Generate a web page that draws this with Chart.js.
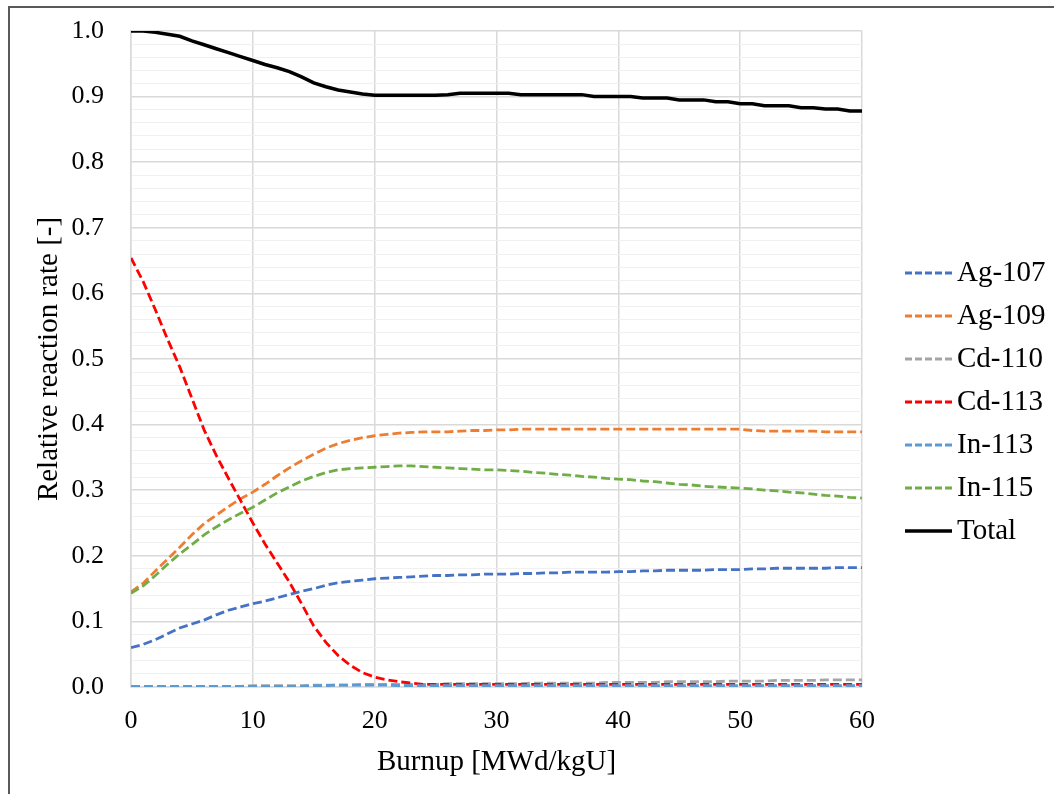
<!DOCTYPE html>
<html>
<head>
<meta charset="utf-8">
<script src="https://cdn.jsdelivr.net/npm/chart.js@4/dist/chart.umd.min.js"></script>
<style>
  html, body { margin: 0; padding: 0; background: #fff; overflow: hidden; }
  #frame { position: absolute; left: 8px; top: 6px; width: 2000px; height: 2000px;
           border-left: 2px solid #595959; border-top: 2px solid #595959; }
  #chart { position: absolute; left: 0; top: 0; }
</style>
</head>
<body>
<div id="frame"></div>
<canvas id="chart" width="1054" height="794"></canvas>
<script>
// Burnup steps [MWd/kgU]
const burnup = [0,1,2,3,4,5,6,7,8,9,10,11,12,13,14,15,16,17,18,19,20,
  21,22,23,24,25,26,27,28,29,30,31,32,33,34,35,36,37,38,39,40,
  41,42,43,44,45,46,47,48,49,50,51,52,53,54,55,56,57,58,59,60];

// Relative reaction rates
const ag107 = [0.060,0.065,0.072,0.081,0.090,0.096,0.102,0.110,0.117,0.122,0.127,
  0.131,0.136,0.141,0.146,0.150,0.155,0.159,0.161,0.163,0.165,
  0.166,0.167,0.168,0.169,0.170,0.170,0.171,0.171,0.172,0.172,
  0.172,0.173,0.173,0.174,0.174,0.175,0.175,0.175,0.175,0.176,
  0.176,0.177,0.177,0.178,0.178,0.178,0.178,0.179,0.179,0.179,
  0.180,0.180,0.181,0.181,0.181,0.181,0.181,0.182,0.182,0.182];
const ag109 = [0.145,0.158,0.177,0.195,0.213,0.232,0.249,0.262,0.275,0.287,0.297,
  0.309,0.322,0.334,0.345,0.355,0.364,0.371,0.376,0.380,0.383,
  0.385,0.387,0.388,0.389,0.389,0.389,0.390,0.391,0.391,0.392,
  0.392,0.393,0.393,0.393,0.393,0.393,0.393,0.393,0.393,0.393,
  0.393,0.393,0.393,0.393,0.393,0.393,0.393,0.393,0.393,0.393,
  0.391,0.390,0.390,0.390,0.390,0.390,0.389,0.389,0.389,0.389];
const cd110 = [0.001,0.001,0.001,0.001,0.001,0.001,0.001,0.001,0.001,0.001,0.002,
  0.002,0.002,0.002,0.002,0.003,0.003,0.003,0.003,0.004,0.004,
  0.004,0.004,0.004,0.004,0.004,0.005,0.005,0.005,0.005,0.005,
  0.005,0.005,0.006,0.006,0.006,0.006,0.006,0.006,0.007,0.007,
  0.007,0.007,0.007,0.008,0.008,0.008,0.008,0.008,0.009,0.009,
  0.009,0.009,0.010,0.010,0.010,0.010,0.011,0.011,0.011,0.011];
const cd113 = [0.654,0.618,0.575,0.530,0.488,0.440,0.392,0.353,0.318,0.284,0.250,
  0.218,0.189,0.160,0.127,0.093,0.068,0.048,0.033,0.022,0.015,
  0.011,0.008,0.006,0.004,0.004,0.004,0.004,0.004,0.004,0.004,
  0.004,0.004,0.004,0.004,0.004,0.004,0.004,0.004,0.004,0.004,
  0.004,0.004,0.004,0.004,0.004,0.004,0.004,0.004,0.004,0.004,
  0.004,0.004,0.004,0.004,0.004,0.004,0.004,0.004,0.004,0.004];
const in113 = [0.001,0.001,0.001,0.001,0.001,0.001,0.001,0.001,0.001,0.001,0.001,
  0.001,0.001,0.001,0.001,0.002,0.002,0.003,0.003,0.003,0.003,
  0.003,0.002,0.002,0.002,0.002,0.002,0.002,0.002,0.002,0.002,
  0.002,0.002,0.002,0.002,0.002,0.002,0.002,0.002,0.002,0.002,
  0.002,0.002,0.002,0.002,0.002,0.002,0.002,0.002,0.002,0.002,
  0.002,0.002,0.002,0.002,0.002,0.002,0.002,0.002,0.002,0.002];
const in115 = [0.143,0.154,0.170,0.187,0.203,0.217,0.232,0.244,0.255,0.265,0.274,
  0.285,0.296,0.305,0.314,0.321,0.327,0.331,0.333,0.334,0.335,
  0.336,0.337,0.337,0.336,0.335,0.334,0.333,0.332,0.331,0.331,
  0.330,0.329,0.327,0.326,0.324,0.323,0.321,0.320,0.318,0.317,
  0.316,0.314,0.313,0.311,0.309,0.308,0.306,0.305,0.304,0.303,
  0.302,0.300,0.299,0.297,0.296,0.294,0.292,0.291,0.289,0.288];
const total = [1.000,1.000,0.998,0.995,0.992,0.985,0.979,0.973,0.967,0.961,0.955,
  0.949,0.944,0.938,0.930,0.921,0.915,0.910,0.907,0.904,0.902,
  0.902,0.902,0.902,0.902,0.902,0.903,0.905,0.905,0.905,0.905,
  0.905,0.903,0.903,0.903,0.903,0.903,0.903,0.900,0.900,0.900,
  0.900,0.898,0.898,0.898,0.895,0.895,0.895,0.892,0.892,0.889,
  0.889,0.886,0.886,0.886,0.883,0.883,0.881,0.881,0.878,0.878];

const seriesNames = ['Ag-107', 'Ag-109', 'Cd-110', 'Cd-113', 'In-113', 'In-115', 'Total'];
const seriesData = [ag107, ag109, cd110, cd113, in113, in115, total];
const seriesColors = ['#4472C4', '#ED7D31', '#A5A5A5', '#FF0000', '#5B9BD5', '#70AD47', '#000000'];

const FONT = '"Liberation Serif", "Times New Roman", serif';

const datasets = seriesNames.map(function (name, i) {
  const isTotal = name === 'Total';
  return {
    label: name,
    data: burnup.map(function (x, j) { return { x: x, y: seriesData[i][j] }; }),
    borderColor: seriesColors[i],
    borderWidth: isTotal ? 3.5 : 2.8,
    borderDash: isTotal ? [] : [9, 4],
    pointRadius: 0,
    tension: 0,
    fill: false,
    order: seriesNames.length - i
  };
});

// legend drawn at the right like the spreadsheet one
const sideLegend = {
  id: 'sideLegend',
  afterDraw(chart) {
    const ctx = chart.ctx;
    ctx.save();
    ctx.font = '29px ' + FONT;
    ctx.textBaseline = 'middle';
    ctx.textAlign = 'left';
    chart.data.datasets.forEach(function (ds, i) {
      const y = 273 + i * 43;
      ctx.strokeStyle = ds.borderColor;
      ctx.lineWidth = ds.borderWidth;
      ctx.setLineDash(ds.borderDash.length ? [7, 3] : []);
      ctx.beginPath();
      ctx.moveTo(905, y);
      ctx.lineTo(952, y);
      ctx.stroke();
      ctx.setLineDash([]);
      ctx.fillStyle = '#000';
      ctx.fillText(ds.label, 957, y);
    });
    ctx.restore();
  }
};

new Chart(document.getElementById('chart'), {
  type: 'line',
  data: { datasets: datasets },
  plugins: [sideLegend],
  options: {
    responsive: false,
    animation: false,
    devicePixelRatio: 1,
    layout: { padding: { left: 10, top: 31, right: 192, bottom: 8 } },
    plugins: { legend: { display: false }, tooltip: { enabled: false } },
    scales: {
      x: {
        type: 'linear',
        min: 0, max: 60,
        afterFit: function (s) { s.height = 99; s.paddingLeft = 0; s.paddingRight = 0; },
        ticks: { stepSize: 10, padding: 19, color: '#000', font: { family: FONT, size: 26 } },
        grid: { color: '#d9d9d9', lineWidth: 1.5, drawTicks: false },
        border: { color: '#d9d9d9', width: 1.5 },
        title: { display: true, text: 'Burnup [MWd/kgU]', color: '#000',
                 font: { family: FONT, size: 29 }, padding: { top: 0, bottom: 6 } }
      },
      y: {
        min: 0, max: 1,
        afterFit: function (s) { s.width = 121; s.paddingTop = 0; s.paddingBottom = 0; },
        ticks: {
          stepSize: 0.02, maxTicksLimit: 60, autoSkip: false, padding: 27, color: '#000',
          font: { family: FONT, size: 26 },
          callback: function (v) { return Math.round(v * 100) % 10 === 0 ? v.toFixed(1) : ''; }
        },
        grid: {
          drawTicks: false,
          color: function (c) { return Math.round(c.tick.value * 100) % 10 === 0 ? '#d9d9d9' : '#f0f0f0'; },
          lineWidth: function (c) { return Math.round(c.tick.value * 100) % 10 === 0 ? 1.5 : 1; }
        },
        border: { color: '#d9d9d9', width: 1.5 },
        title: { display: true, text: 'Relative reaction rate [-]', color: '#000',
                 font: { family: FONT, size: 29 }, padding: { top: 22, bottom: 0 } }
      }
    }
  }
});
</script>
</body>
</html>
